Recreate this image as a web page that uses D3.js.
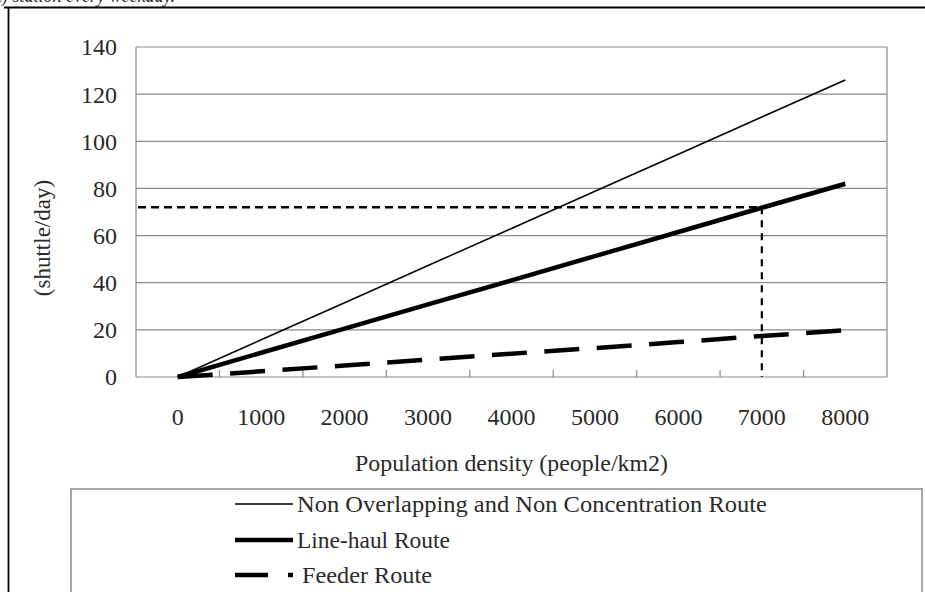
<!DOCTYPE html>
<html>
<head>
<meta charset="utf-8">
<script src="https://cdn.jsdelivr.net/npm/d3@7/dist/d3.min.js"></script>
<style>
  html, body { margin: 0; padding: 0; background: #fff; }
  svg { display: block; }
  text { font-family: "Liberation Serif", "Times New Roman", serif; fill: #2a2a2a; }
</style>
</head>
<body>
<script>
// ---- data ----
const categories = ["0", "1000", "2000", "3000", "4000", "5000", "6000", "7000", "8000"];
const nonOverlapping = [0, 15.8, 31.5, 47.3, 63, 78.8, 94.5, 110.3, 126];
const lineHaul = [0, 10.3, 20.5, 30.8, 41, 51.3, 61.5, 71.8, 82];
const feeder = [0, 2.4, 4.9, 7.4, 9.9, 12.3, 14.8, 17.4, 19.8];
const yTicks = [0, 20, 40, 60, 80, 100, 120, 140];
const refCategory = "7000";
const refValue = 72;
const seriesNames = ["Non Overlapping and Non Concentration Route", "Line-haul Route", "Feeder Route"];
const captionText = "t) station every weekday.";
const yTitle = "(shuttle/day)";
const xTitle = "Population density (people/km2)";

const W = 925, H = 592;
const plot = { left: 136, right: 887, top: 47, bottom: 377 };

const svg = d3.select("body").append("svg").attr("width", W).attr("height", H);

// caption cut off at top (as in the reference)
svg.append("text").attr("x", -3).attr("y", 2)
  .attr("font-size", 21).attr("font-style", "italic").attr("fill", "#111")
  .attr("textLength", 178).attr("lengthAdjust", "spacingAndGlyphs")
  .text(captionText);

// outer frame
svg.append("line").attr("x1", 4).attr("x2", W).attr("y1", 7.5).attr("y2", 7.5)
  .attr("stroke", "#000").attr("stroke-width", 2);
svg.append("line").attr("x1", 8.5).attr("x2", 8.5).attr("y1", 7).attr("y2", H)
  .attr("stroke", "#000").attr("stroke-width", 1.8);

const x = d3.scaleBand().domain(categories).range([plot.left, plot.right]).padding(0);
const y = d3.scaleLinear().domain([0, 140]).range([plot.bottom, plot.top]);
const cx = c => x(c) + x.bandwidth() / 2;

// gridlines
svg.append("g").selectAll("line").data(yTicks.filter(d => d > 0)).join("line")
  .attr("x1", plot.left).attr("x2", plot.right)
  .attr("y1", d => y(d)).attr("y2", d => y(d))
  .attr("stroke", "#8a8a8a").attr("stroke-width", 1.2);

// plot border (right) and axes
svg.append("line").attr("x1", plot.right).attr("x2", plot.right).attr("y1", plot.top).attr("y2", plot.bottom)
  .attr("stroke", "#8a8a8a").attr("stroke-width", 1.2);
svg.append("line").attr("x1", plot.left).attr("x2", plot.left).attr("y1", plot.top).attr("y2", plot.bottom)
  .attr("stroke", "#8a8a8a").attr("stroke-width", 1.2);
svg.append("line").attr("x1", plot.left).attr("x2", plot.right).attr("y1", plot.bottom).attr("y2", plot.bottom)
  .attr("stroke", "#8a8a8a").attr("stroke-width", 1.2);

// x tick marks between categories (inside)
svg.append("g").selectAll("line").data(categories.slice(1)).join("line")
  .attr("x1", d => x(d)).attr("x2", d => x(d))
  .attr("y1", plot.bottom).attr("y2", plot.bottom - 7)
  .attr("stroke", "#8a8a8a").attr("stroke-width", 1.2);

// y labels
svg.append("g").selectAll("text").data(yTicks).join("text")
  .attr("x", 117).attr("y", d => y(d)).attr("dy", "0.35em")
  .attr("text-anchor", "end").attr("font-size", 24)
  .text(d => d);

// x labels
svg.append("g").selectAll("text").data(categories).join("text")
  .attr("x", d => cx(d)).attr("y", 425)
  .attr("text-anchor", "middle").attr("font-size", 24)
  .text(d => d);

// axis titles
svg.append("text").attr("transform", "translate(50,238) rotate(-90)")
  .attr("text-anchor", "middle").attr("font-size", 23).attr("fill", "#444")
  .text(yTitle);
svg.append("text").attr("x", (plot.left + plot.right) / 2).attr("y", 471)
  .attr("text-anchor", "middle").attr("font-size", 23)
  .attr("textLength", 313).attr("lengthAdjust", "spacingAndGlyphs")
  .text(xTitle);

// reference dashed lines
svg.append("line").attr("x1", plot.left + 2).attr("x2", cx(refCategory))
  .attr("y1", y(refValue)).attr("y2", y(refValue))
  .attr("stroke", "#000").attr("stroke-width", 2.5).attr("stroke-dasharray", "8,5");
svg.append("line").attr("x1", cx(refCategory)).attr("x2", cx(refCategory))
  .attr("y1", y(refValue)).attr("y2", plot.bottom)
  .attr("stroke", "#000").attr("stroke-width", 2.2).attr("stroke-dasharray", "7,6");

const line = d3.line().x((d, i) => cx(categories[i])).y(d => y(d));
const styles = [
  { w: 1.5, dash: null },
  { w: 4.5, dash: null },
  { w: 4.5, dash: "35,17.5" }
];
const seriesData = [nonOverlapping, lineHaul, feeder];

seriesData.forEach((s, i) => {
  svg.append("path").datum(s).attr("d", line)
    .attr("fill", "none").attr("stroke", "#000")
    .attr("stroke-width", styles[i].w)
    .attr("stroke-dasharray", styles[i].dash);
});

// legend
svg.append("rect").attr("x", 71).attr("y", 489).attr("width", 851).attr("height", 150)
  .attr("fill", "none").attr("stroke", "#8a8a8a").attr("stroke-width", 1.5);
const legY = [504, 540, 575];
const legTextX = [297, 297, 302];
const legTextLen = [470, 153, 130];
seriesNames.forEach((n, i) => {
  svg.append("line").attr("x1", 235).attr("x2", 293).attr("y1", legY[i]).attr("y2", legY[i])
    .attr("stroke", "#000").attr("stroke-width", styles[i].w)
    .attr("stroke-dasharray", styles[i].dash ? "33,20" : null);
  svg.append("text").attr("x", legTextX[i]).attr("y", legY[i]).attr("dy", "0.33em")
    .attr("font-size", 23)
    .attr("textLength", legTextLen[i]).attr("lengthAdjust", "spacingAndGlyphs")
    .text(n);
});
</script>
</body>
</html>
